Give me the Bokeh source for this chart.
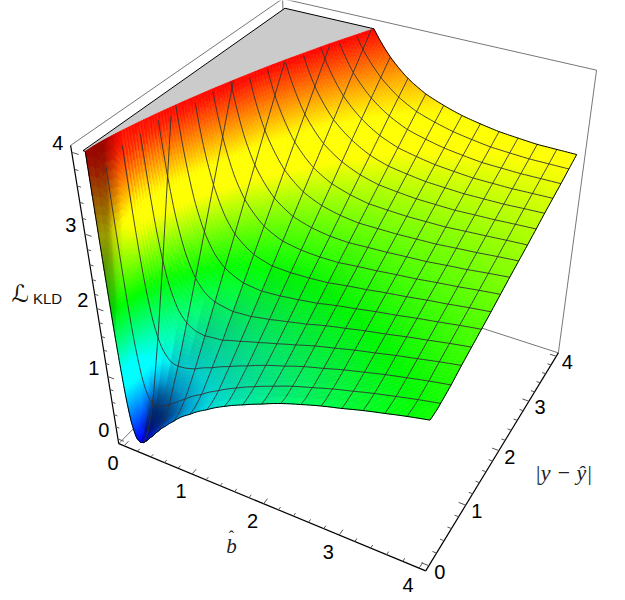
import numpy as np
from bokeh.core.properties import value
from bokeh.embed import file_html
from bokeh.models import ColumnDataSource, Range1d
from bokeh.plotting import figure
from bokeh.resources import INLINE

# ---- chart data ----
B_HAT = [0.02, 0.03, 0.05, 0.075, 0.1, 0.15, 0.2, 0.25, 0.3, 0.4, 0.5, 0.625, 0.75, 1, 1.25, 1.5, 1.75, 2, 2.5, 3, 3.5, 4]
ABS_ERR = [0, 0.1, 0.2, 0.3, 0.5, 0.75, 1, 1.5, 2, 2.5, 3, 3.5, 4]
KLD_0 = [6.70, 3.77, 1.61, 0.69, 0.31, 0.05, 0.00, 0.02, 0.07, 0.19, 0.32, 0.46, 0.59, 0.81, 0.99, 1.15, 1.28, 1.40, 1.61, 1.77, 1.92, 2.05]
KLD_1 = [7.76, 4.48, 2.04, 0.97, 0.52, 0.19, 0.11, 0.11, 0.14, 0.25, 0.36, 0.49, 0.62, 0.83, 1.01, 1.16, 1.30, 1.41, 1.61, 1.78, 1.93, 2.05]
KLD_2 = [10.38, 6.22, 3.08, 1.67, 1.04, 0.54, 0.37, 0.32, 0.32, 0.38, 0.46, 0.58, 0.69, 0.88, 1.05, 1.20, 1.33, 1.44, 1.64, 1.80, 1.94, 2.06]
KLD_3 = [13.93, 8.59, 4.51, 2.61, 1.75, 1.01, 0.72, 0.60, 0.55, 0.56, 0.61, 0.69, 0.78, 0.95, 1.11, 1.25, 1.37, 1.48, 1.66, 1.82, 1.96, 2.08]
KLD_4 = [22.5, 14.3, 7.94, 4.90, 3.47, 2.16, 1.58, 1.29, 1.13, 0.98, 0.95, 0.97, 1.01, 1.13, 1.25, 1.36, 1.47, 1.56, 1.73, 1.88, 2.01, 2.12]
KLD_5 = [34.4, 22.3, 12.70, 8.08, 5.85, 3.74, 2.77, 2.24, 1.92, 1.58, 1.43, 1.35, 1.33, 1.36, 1.44, 1.52, 1.60, 1.68, 1.83, 1.96, 2.08, 2.19]
KLD_6 = [46.8, 30.5, 17.6, 11.37, 8.32, 5.39, 4.01, 3.23, 2.74, 2.20, 1.92, 1.74, 1.66, 1.61, 1.63, 1.68, 1.74, 1.80, 1.93, 2.04, 2.15, 2.25]
KLD_7 = [71.7, 47.1, 27.6, 18.0, 13.31, 8.71, 6.50, 5.22, 4.41, 3.44, 2.92, 2.54, 2.32, 2.11, 2.03, 2.02, 2.03, 2.05, 2.13, 2.21, 2.29, 2.37]
KLD_8 = [96.7, 63.8, 37.6, 24.7, 18.31, 12.05, 9.00, 7.22, 6.07, 4.69, 3.92, 3.34, 2.99, 2.61, 2.43, 2.35, 2.31, 2.30, 2.33, 2.37, 2.43, 2.50]
KLD_9 = [121.7, 80.4, 47.6, 31.3, 23.31, 15.38, 11.50, 9.22, 7.74, 5.94, 4.92, 4.14, 3.66, 3.11, 2.83, 2.68, 2.60, 2.55, 2.53, 2.54, 2.58, 2.62]
KLD_10 = [146.7, 97.1, 57.6, 38.0, 28.31, 18.71, 14.00, 11.22, 9.40, 7.19, 5.92, 4.94, 4.32, 3.61, 3.23, 3.02, 2.88, 2.80, 2.73, 2.71, 2.72, 2.75]
KLD_11 = [171.7, 113.8, 67.6, 44.7, 33.31, 22.04, 16.50, 13.22, 11.07, 8.44, 6.92, 5.74, 4.99, 4.11, 3.63, 3.35, 3.17, 3.05, 2.93, 2.87, 2.86, 2.87]
KLD_12 = [196.7, 130.4, 77.6, 51.3, 38.31, 25.38, 19.00, 15.22, 12.74, 9.69, 7.92, 6.54, 5.65, 4.61, 4.03, 3.68, 3.45, 3.30, 3.13, 3.04, 3.00, 3.00]
MESH_STEP = 0.25
TICKS = [0, 1, 2, 3, 4]
Z_TOP = 4.0
PAD = 0.08

KLD = np.array([KLD_0, KLD_1, KLD_2, KLD_3, KLD_4, KLD_5, KLD_6, KLD_7, KLD_8, KLD_9, KLD_10, KLD_11, KLD_12])
BH = np.array(B_HAT, float)
DY = np.array(ABS_ERR, float)

# ---- camera: fitted to the box corners and surface corners seen in the picture ----
LO, HI, ZL, ZH = -PAD, 4 + PAD, -PAD, 4 + PAD
CAL = [
    (LO, LO, ZL, 116.7, 441.0), (LO, LO, ZH, 71.0, 148.0), (HI, LO, ZL, 424.3, 569.3),
    (HI, HI, ZL, 558.3, 352.3), (HI, HI, ZH, 596.0, 71.7), (LO, HI, ZH, 282.3, 1.0),
    (4, 4, 3.0, 576.3, 153.3), (4, 0, 2.05, 430.0, 421.0), (0.2, 0, 0.0, 141.7, 445.0),
    (1.27, 4, 4, 372.7, 24.3), (0.03, 0, 4, 84.3, 146.7),
]
rows = []
for X, Y, Z, u, v in CAL:
    u, v = u / 500, v / 500
    rows.append([X, Y, Z, 1, 0, 0, 0, 0, -u * X, -u * Y, -u * Z, -u])
    rows.append([0, 0, 0, 0, X, Y, Z, 1, -v * X, -v * Y, -v * Z, -v])
CAM = np.linalg.svd(np.array(rows))[2][-1].reshape(3, 4)
EYE = np.linalg.svd(CAM)[2][-1]
EYE = EYE[:3] / EYE[3]

# camera frame, and three white lights fixed to it (plus ambient)
_f = np.array([2.0, 2.0, 2.0]) - EYE
_f /= np.linalg.norm(_f)
_r = np.cross(_f, [0, 0, 1.0])
_r /= np.linalg.norm(_r)
_u = np.cross(_r, _f)
AMBIENT = 0.68
LIGHT = 0.27
LIGHTS = [np.array(v, float) / np.linalg.norm(v) for v in [(2, -0.5, 1), (2, 1, 1), (0.5, 1.5, 1)]]


def shade_of(zb, zd, b, d, z):
    n = np.array([-zb, -zd, 1.0])
    steep = np.linalg.norm(n)
    n /= steep
    c = np.array([n @ _r, n @ _u, -(n @ _f)])
    lit = AMBIENT + LIGHT * sum(max(0.0, c @ l) for l in LIGHTS)
    hollow = np.clip((0.75 - z) / 0.35, 0, 1) * np.clip((b - 0.15) / 0.1, 0, 1) * np.clip(d / 0.15, 0, 1)
    return lit * (1 - 0.5 * min(max(steep - 25, 0) / 80, 1)) * (1 - 0.4 * hollow)


def project(b, d, z):
    b, d, z = np.asarray(b, float), np.asarray(d, float), np.asarray(z, float)
    h = np.stack([b, d, z, np.ones_like(b)])
    q = CAM @ h.reshape(4, -1)
    return (q[0] / q[2] * 500).reshape(b.shape), (q[1] / q[2] * 500).reshape(b.shape)


def surf(b, d):
    """Look the table up: linear between rows, and linear in 1/b between columns."""
    b, d = np.broadcast_arrays(np.asarray(b, float), np.asarray(d, float))
    i = np.clip(np.searchsorted(DY, d, side="right") - 1, 0, len(DY) - 2)
    t = (d - DY[i]) / (DY[i + 1] - DY[i])
    j = np.clip(np.searchsorted(BH, b, side="right") - 1, 0, len(BH) - 2)
    s = (1 / b - 1 / BH[j]) / (1 / BH[j + 1] - 1 / BH[j])
    a0 = KLD[i, j] * (1 - t) + KLD[i + 1, j] * t
    a1 = KLD[i, j + 1] * (1 - t) + KLD[i + 1, j + 1] * t
    return a0 * (1 - s) + a1 * s


STOPS = np.array([[0, 0, 255], [0, 255, 255], [0, 255, 0], [255, 255, 0], [255, 0, 0]], float)


def colour(z, shade):
    z = np.clip(z, 0, 4)
    rgb = np.minimum(np.array([np.interp(z, np.arange(5), STOPS[:, k]) for k in range(3)]) * shade, 255)
    return "#%02x%02x%02x" % tuple(int(round(v)) for v in rgb)


def clip_top(pts):
    out = []
    n = len(pts)
    for k in range(n):
        a, c = pts[k], pts[(k + 1) % n]
        if a[2] <= Z_TOP:
            out.append(a)
        if (a[2] <= Z_TOP) != (c[2] <= Z_TOP):
            f = (Z_TOP - a[2]) / (c[2] - a[2])
            out.append((a[0] + f * (c[0] - a[0]), a[1] + f * (c[1] - a[1]), Z_TOP))
    return out


# ---- surface pieces, far ones first ----
bf = np.geomspace(BH[0], 4, 230)
df = np.unique(np.concatenate([np.linspace(0, 0.5, 31), np.linspace(0.5, 4, 90)]))
G = surf(bf[None, :], df[:, None])
polys = []
for i in range(len(df) - 1):
    for j in range(len(bf) - 1):
        q = [(bf[j], df[i], G[i, j]), (bf[j + 1], df[i], G[i, j + 1]),
             (bf[j + 1], df[i + 1], G[i + 1, j + 1]), (bf[j], df[i + 1], G[i + 1, j])]
        if min(p[2] for p in q) > Z_TOP:
            continue
        zb = (G[i, j + 1] - G[i, j]) / (bf[j + 1] - bf[j])
        zd = (G[i + 1, j] - G[i, j]) / (df[i + 1] - df[i])
        cp = clip_top(q)
        if len(cp) < 3:
            continue
        arr = np.array(cp)
        mid = arr.mean(axis=0)
        dist = np.sum((mid - EYE) ** 2)
        x, y = project(arr[:, 0], arr[:, 1], arr[:, 2])
        polys.append((dist, x.tolist(), y.tolist(), colour(mid[2], shade_of(zb, zd, mid[0], mid[1], mid[2]))))
polys.sort(key=lambda r: -r[0])

# edge of the clipped cap
dc = np.linspace(0, 4, 60)
be = []
fine_b = np.geomspace(BH[0], 4, 3000)
for dv in dc:
    zz = surf(fine_b, np.full_like(fine_b, dv))
    be.append(fine_b[np.argmax(zz <= Z_TOP)])
be = np.array(be)
cap_b = np.concatenate([[0], [0], be[::-1]])
cap_d = np.concatenate([[0], [4], dc[::-1]])
cap_x, cap_y = project(cap_b, cap_d, np.full_like(cap_b, Z_TOP))

p = figure(width=625, height=600, output_backend="svg", toolbar_location=None,
           x_range=Range1d(0, 625), y_range=Range1d(600, 0), min_border=0,
           background_fill_color="white", outline_line_color=None)
p.axis.visible = False
p.grid.visible = False


def seg(pts):
    a = np.array(pts, float)
    return project(a[:, 0], a[:, 1], a[:, 2])


# back edges of the box
BOX = [[(LO, LO, ZH), (LO, HI, ZH), (HI, HI, ZH), (HI, HI, ZL), (LO, HI, ZL), (LO, LO, ZL)],
       [(LO, HI, ZL), (LO, HI, ZH)]]
for pl in BOX:
    x, y = seg(pl)
    p.line(x.tolist(), y.tolist(), line_color="#777777", line_width=1)

p.patch(cap_x.tolist(), cap_y.tolist(), fill_color="#cbcbcb", line_color=None)
src = ColumnDataSource(dict(xs=[r[1] for r in polys], ys=[r[2] for r in polys], c=[r[3] for r in polys]))
p.patches("xs", "ys", source=src, fill_color="c", line_color="c", line_width=0.6)

# mesh lines, clipped at the top of the range
xs, ys = [], []
k_vals = [MESH_STEP * k for k in range(1, int(4 / MESH_STEP))]
for k in k_vals:
    z = surf(np.full_like(df, k), df)
    m = z <= Z_TOP
    x, y = project(np.full(m.sum(), k), df[m], z[m])
    xs.append(x.tolist()); ys.append(y.tolist())
    bb = np.geomspace(max(be[np.argmin(abs(dc - k))], BH[0]), 4, 90)
    z = surf(bb, np.full_like(bb, k))
    m = z <= Z_TOP
    x, y = project(bb[m], np.full(m.sum(), k), z[m])
    xs.append(x.tolist()); ys.append(y.tolist())
p.multi_line(xs, ys, line_color="#333333", line_width=1, line_alpha=0.9)

# outline of the surface
bb = np.geomspace(be[0], 4, 200)
x0, y0 = project(bb, np.zeros_like(bb), surf(bb, np.zeros_like(bb)))
bb4 = np.geomspace(be[-1], 4, 120)
x4, y4 = project(bb4, np.full_like(bb4, 4), surf(bb4, np.full_like(bb4, 4)))
dd = np.linspace(0, 4, 60)
xr, yr = project(np.full_like(dd, 4), dd, surf(np.full_like(dd, 4), dd))
xc, yc = project(np.array([be[0], 0, 0, be[-1]]), np.array([0, 0, 4, 4]), np.full(4, Z_TOP))
p.multi_line([x0.tolist(), x4.tolist(), xr.tolist(), xc.tolist()],
             [y0.tolist(), y4.tolist(), yr.tolist(), yc.tolist()], line_color="black", line_width=1)

# axes and ticks
AXES = [((LO, LO, ZL), (LO, LO, ZH)), ((LO, LO, ZL), (HI, LO, ZL)), ((HI, LO, ZL), (HI, HI, ZL))]
for a, c in AXES:
    x, y = seg([a, c])
    p.line(x.tolist(), y.tolist(), line_color="black", line_width=1.2)

minor = [m / 5 for m in range(0, 21)]
tx, ty = [], []
for t in minor:
    L = 0.09 if abs(t - round(t)) < 1e-9 else 0.05
    for a, c in [((LO, LO, t), (LO + L, LO, t)), ((t, LO, ZL), (t, LO + L, ZL)), ((HI, t, ZL), (HI - L, t, ZL))]:
        x, y = seg([a, c])
        tx.append(x.tolist()); ty.append(y.tolist())
p.multi_line(tx, ty, line_color="#555555", line_width=1)

NUM = dict(text_font=value("Liberation Sans"), text_font_size="20px", text_align="center",
           text_baseline="middle", text_color="black")
for pos, dx, dy in [(lambda t: (LO, LO, t), -14, -9), (lambda t: (t, LO, ZL), -11, 17), (lambda t: (HI, t, ZL), 11, 6)]:
    x, y = seg([pos(t) for t in TICKS])
    p.text((x + dx).tolist(), (y + dy).tolist(), text=[str(t) for t in TICKS], **NUM)

p.text([20], [293], text=["ℒ"], text_font=value("DejaVu Sans"), text_font_size="24px",
       text_font_style="italic", text_align="center", text_baseline="middle", text_color="#111111")
p.text([47], [298], text=["KLD"], text_font=value("Liberation Sans"), text_font_size="15px",
       text_align="center", text_baseline="middle", text_color="#111111")
p.text([231], [545], text=["b"], text_font=value("Liberation Serif"), text_font_size="21px",
       text_font_style="italic", text_align="center", text_baseline="middle", text_color="#222222")
p.text([231], [536], text=["ˆ"], text_font=value("Liberation Serif"), text_font_size="16px",
       text_align="center", text_baseline="middle", text_color="#222222")
p.text([563], [472], text=["|y − ŷ|"], text_font=value("Liberation Serif"), text_font_size="22px",
       text_font_style="italic", text_align="center", text_baseline="middle", text_color="#222222")

open("out.html", "w").write(file_html(p, INLINE))
